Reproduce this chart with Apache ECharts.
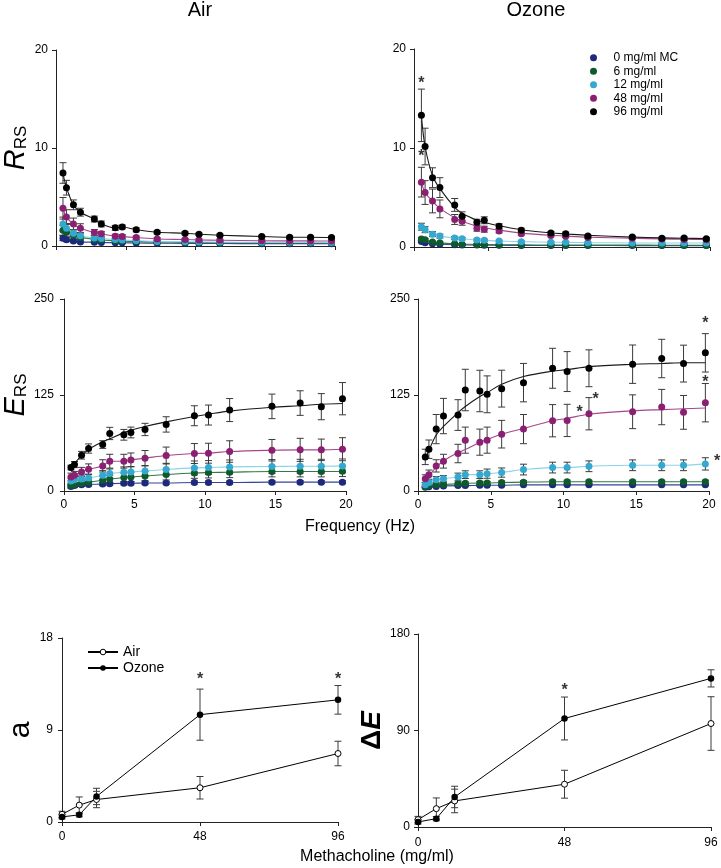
<!DOCTYPE html>
<html>
<head>
<meta charset="utf-8">
<script src="https://cdn.jsdelivr.net/npm/echarts@6/dist/echarts.min.js"></script>
<style>
  html, body { margin: 0; padding: 0; background: #fff; }
  #chart { width: 721px; height: 868px; }
</style>
</head>
<body>
<div id="chart"></div>
<script>
  // frequencies of the forced oscillation (Hz)
  const freq = [0.5, 0.75, 1.25, 1.75, 2.75, 3.25, 4.25, 4.75, 5.75, 7.25, 9.25, 10.25, 11.75, 14.75, 16.75, 18.25, 19.75];
  const doses = ['0 mg/ml MC', '6 mg/ml', '12 mg/ml', '48 mg/ml', '96 mg/ml'];
  const doseColors = ['#1c2a7d', '#0f5a2b', '#35a8cf', '#8b1f72', '#000000'];
  const lineColors = ['#34449a', '#2f7a48', '#8dd3e6', '#a5478a', '#1a1a1a'];

  // R_RS, Air (rows follow doses)
  const airR = [
    [0.8, 0.65, 0.5, 0.42, 0.38, 0.36, 0.34, 0.33, 0.31, 0.28, 0.27, 0.26, 0.25, 0.24, 0.24, 0.24, 0.23],
    [1.6, 1.4, 1.1, 0.88, 0.68, 0.62, 0.53, 0.5, 0.45, 0.4, 0.36, 0.35, 0.34, 0.32, 0.31, 0.31, 0.3],
    [2.25, 1.8, 1.3, 1.05, 0.82, 0.76, 0.66, 0.62, 0.55, 0.47, 0.44, 0.42, 0.4, 0.38, 0.37, 0.37, 0.36],
    [3.85, 2.95, 2.25, 1.82, 1.38, 1.24, 1.0, 0.96, 0.86, 0.72, 0.66, 0.62, 0.59, 0.54, 0.52, 0.52, 0.51],
    [7.45, 5.95, 4.2, 3.45, 2.75, 2.25, 1.85, 1.94, 1.65, 1.4, 1.3, 1.2, 1.1, 0.97, 0.9, 0.9, 0.86]
  ];
  const airRErr = [
    [0.25, 0.2, 0.15, 0.1, 0.08, 0.06, 0.05, 0.05, 0.05, 0.05, 0.05, 0.05, 0.05, 0.05, 0.05, 0.05, 0.05],
    [0.5, 0.4, 0.3, 0.2, 0.15, 0.12, 0.1, 0.1, 0.08, 0.08, 0.07, 0.07, 0.07, 0.06, 0.06, 0.06, 0.06],
    [0.7, 0.5, 0.35, 0.25, 0.2, 0.15, 0.12, 0.12, 0.1, 0.1, 0.08, 0.08, 0.08, 0.08, 0.08, 0.08, 0.08],
    [1.1, 0.75, 0.6, 0.45, 0.3, 0.25, 0.2, 0.2, 0.15, 0.12, 0.1, 0.1, 0.1, 0.1, 0.1, 0.1, 0.1],
    [1.05, 0.75, 0.5, 0.4, 0.3, 0.3, 0.25, 0.2, 0.2, 0.15, 0.15, 0.12, 0.12, 0.12, 0.12, 0.12, 0.12]
  ];

  // R_RS, Ozone
  const ozoneR = [
    [0.55, 0.42, 0.32, 0.28, 0.22, 0.21, 0.19, 0.18, 0.17, 0.16, 0.15, 0.15, 0.15, 0.14, 0.14, 0.14, 0.14],
    [0.82, 0.72, 0.5, 0.42, 0.32, 0.29, 0.26, 0.25, 0.23, 0.21, 0.2, 0.2, 0.19, 0.19, 0.18, 0.18, 0.18],
    [2.05, 1.75, 1.3, 1.1, 0.9, 0.84, 0.71, 0.68, 0.6, 0.54, 0.48, 0.47, 0.44, 0.41, 0.4, 0.4, 0.4],
    [6.55, 5.5, 4.65, 3.85, 2.78, 2.6, 1.9, 1.8, 1.62, 1.35, 1.15, 1.08, 0.95, 0.88, 0.8, 0.76, 0.74],
    [13.3, 10.15, 7.0, 6.0, 4.25, 3.1, 2.5, 2.7, 2.1, 1.7, 1.42, 1.35, 1.1, 1.0, 0.88, 0.9, 0.84]
  ];
  const ozoneRErr = [
    [0.1, 0.08, 0.06, 0.05, 0.04, 0.04, 0.03, 0.03, 0.03, 0.03, 0.03, 0.03, 0.03, 0.03, 0.03, 0.03, 0.03],
    [0.15, 0.12, 0.1, 0.08, 0.06, 0.05, 0.05, 0.05, 0.04, 0.04, 0.04, 0.04, 0.04, 0.04, 0.04, 0.04, 0.04],
    [0.35, 0.3, 0.25, 0.2, 0.15, 0.12, 0.1, 0.1, 0.08, 0.08, 0.07, 0.07, 0.07, 0.06, 0.06, 0.06, 0.06],
    [1.5, 1.2, 1.2, 0.9, 0.5, 0.4, 0.3, 0.3, 0.2, 0.15, 0.12, 0.12, 0.1, 0.1, 0.1, 0.1, 0.1],
    [2.65, 1.85, 1.0, 1.0, 0.65, 0.45, 0.3, 0.35, 0.25, 0.2, 0.15, 0.15, 0.12, 0.12, 0.12, 0.12, 0.12]
  ];
  const ozoneRFit48 = [6.55, 5.5, 4.6, 3.9, 2.95, 2.6, 2.1, 1.95, 1.7, 1.4, 1.18, 1.1, 1.0, 0.88, 0.82, 0.78, 0.76];
  const ozoneRFit96 = [13.3, 10.15, 7.2, 5.9, 4.0, 3.4, 2.7, 2.5, 2.15, 1.75, 1.42, 1.32, 1.18, 1.0, 0.92, 0.88, 0.85];

  // E_RS, Air
  const airE = [
    [6, 7, 8, 8.5, 9, 9.5, 10, 10, 10.5, 10.5, 11, 11, 11, 11.5, 11.5, 11.5, 11.5],
    [7, 8, 10, 11.5, 14, 15.5, 17.5, 18.3, 19.5, 21.4, 23.5, 24, 24.4, 25.4, 25.4, 25.4, 25.8],
    [13, 14.5, 15.7, 17, 20.5, 22.7, 24.4, 24.8, 26.1, 28, 30.1, 30.6, 31.4, 31.9, 32.3, 32.3, 32.7],
    [18.3, 20.5, 24.8, 28.3, 32.7, 38.8, 38.8, 40.5, 42.7, 46.2, 48.8, 49.2, 51.4, 53.1, 53.6, 53.6, 54.4],
    [30.5, 34.4, 46.6, 55.3, 60.5, 74.9, 73.2, 76.2, 80.1, 86.7, 98.0, 98.9, 105.4, 110.2, 114.5, 109.8, 120.2]
  ];
  const airEErr = [
    [2, 2, 2, 2, 2, 2, 2, 2, 2, 2, 2, 2, 2, 2, 2, 2, 2],
    [3, 3, 4, 4, 5, 5, 6, 6, 6, 7, 7, 7, 7, 7, 7, 7, 7],
    [4, 4, 5, 5, 6, 6, 7, 7, 7, 8, 9, 9, 9, 9, 9, 9, 9],
    [5, 5, 6, 7, 8, 9, 9, 9, 10, 11, 13, 13, 14, 14, 15, 14, 15],
    [3, 4, 5, 6, 5, 8, 7, 7, 8, 10, 13, 13, 15, 16, 16, 17, 21]
  ];
  const airEFit96 = [30.5, 36, 46, 54, 64, 68, 76, 79, 84, 90, 97, 100, 104, 109, 111, 113, 114];

  // E_RS, Ozone
  const ozoneE = [
    [5, 5.5, 6, 6.5, 7, 7, 7.5, 7.5, 7.5, 8, 8, 8, 8, 8, 8, 8, 8],
    [6, 7, 8, 8.5, 9.5, 10, 10.5, 10.5, 11, 11.5, 12, 12, 12, 12, 12, 12, 12],
    [8, 11, 14.8, 16.1, 18.3, 21.3, 21.3, 22.6, 24, 27.9, 30.5, 30.5, 32.2, 33.5, 33.5, 33.5, 35.3],
    [16.1, 21.3, 32.7, 38.8, 48.8, 66.2, 63.6, 66.2, 74.0, 80.6, 91.5, 91.9, 100.6, 103.2, 109.3, 102.4, 115],
    [44.4, 54.4, 80.6, 97.6, 98.9, 131.5, 130.2, 125.9, 133.3, 141.1, 159.8, 155.5, 159.8, 165.1, 172.5, 165.9, 179.9]
  ];
  const ozoneEErr = [
    [1, 1, 1, 1, 1, 1, 1, 1, 1, 1, 1, 1, 1, 1, 1, 1, 1],
    [2, 2, 2, 2, 2, 2, 2, 2, 2, 2, 2, 2, 2, 2, 2, 2, 2],
    [3, 3, 4, 4, 5, 5, 5, 6, 6, 7, 7, 7, 7, 7, 7, 7, 8],
    [5, 6, 8, 9, 12, 17, 17, 17, 18, 19, 21, 21, 21, 22, 23, 22, 25],
    [10, 12, 19, 23, 20, 27, 27, 24, 24, 25, 26, 26, 24, 25, 25, 24, 25]
  ];
  const ozoneEFit48 = [16, 19.6, 31, 39, 50, 54, 63.6, 67, 74, 81.4, 91.5, 94.5, 100, 104.5, 106, 107, 108];
  const ozoneEFit96 = [42, 53, 73, 84, 102, 110, 123, 128, 139, 149, 156, 158, 162, 165, 166, 167, 167];

  // bottom panels: a and delta E against methacholine dose
  const mcDose = [0, 6, 12, 48, 96];
  const aAir = [0.75, 1.65, 2.2, 3.35, 6.7];
  const aAirErr = [0.3, 0.8, 0.8, 1.1, 1.2];
  const aOzone = [0.5, 0.7, 2.5, 10.5, 11.95];
  const aOzoneErr = [0.2, 0.2, 0.8, 2.5, 1.4];
  const dEAir = [6.9, 17.1, 24.3, 39.9, 96.5];
  const dEAirErr = [3, 10, 11, 13, 25];
  const dEOzone = [4.7, 7.8, 28, 101.2, 138.6];
  const dEOzoneErr = [2, 2, 10, 20, 8];

  // significance marks [x, y]
  const ozoneRStars = [[0.5, 16.9], [0.5, 9.5]];
  const ozoneEStars = [[19.75, 223], [19.75, 146.8], [12.2, 124.6], [11.1, 106.7], [20.55, 44]];
  const aStars = [[48, 14.3], [96, 14.3]];
  const dEStars = [[48, 131.4]];

  const font = 'Liberation Sans, Arial, sans-serif';
  const axisColor = '#222';
  const barColor = '#3a3a3a';

  function errRender(params, api) {
    const x = api.value(0), y = api.value(1), e = api.value(2);
    const hi = api.coord([x, y + e]);
    const lo = api.coord([x, y - e]);
    const w = 3.5;
    const style = { stroke: barColor, lineWidth: 1 };
    return {
      type: 'group',
      children: [
        { type: 'line', shape: { x1: hi[0], y1: hi[1], x2: lo[0], y2: lo[1] }, style: style },
        { type: 'line', shape: { x1: hi[0] - w, y1: hi[1], x2: hi[0] + w, y2: hi[1] }, style: style },
        { type: 'line', shape: { x1: lo[0] - w, y1: lo[1], x2: lo[0] + w, y2: lo[1] }, style: style }
      ]
    };
  }

  function xAx(i, max, interval, showLabels, margin) {
    return {
      type: 'value', gridIndex: i, min: 0, max: max, interval: interval,
      axisLine: { onZero: false, lineStyle: { color: axisColor, width: 1 } },
      axisTick: { show: true, length: 4, lineStyle: { color: axisColor } },
      axisLabel: { show: showLabels, color: '#000', fontSize: 12, fontFamily: font, margin: margin || 8 },
      splitLine: { show: false }
    };
  }

  function yAx(i, max, interval, name, rich, gap, margin) {
    return {
      type: 'value', gridIndex: i, min: 0, max: max, interval: interval,
      name: name, nameLocation: 'middle', nameRotate: 90, nameGap: gap,
      nameTextStyle: { color: '#000', fontFamily: font, rich: rich },
      axisLine: { show: true, lineStyle: { color: axisColor, width: 1 } },
      axisTick: { show: true, length: 4, lineStyle: { color: axisColor } },
      axisLabel: { color: '#000', fontSize: 12, fontFamily: font, margin: margin || 8 },
      splitLine: { show: false }
    };
  }

  const richR = {
    i: { fontSize: 29, fontStyle: 'italic', fontFamily: font, verticalAlign: 'bottom' },
    s: { fontSize: 17, fontFamily: font, verticalAlign: 'bottom' }
  };
  const richA = { n: { fontSize: 30, fontFamily: font } };
  const richD = {
    d: { fontSize: 28, fontFamily: font, fontWeight: 'bold' },
    i: { fontSize: 28, fontStyle: 'italic', fontFamily: font, fontWeight: 'bold' }
  };

  const series = [];

  function starSeries(i, pts) {
    series.push({
      type: 'scatter', xAxisIndex: i, yAxisIndex: i, data: pts, clip: false,
      symbolSize: 1, itemStyle: { color: 'rgba(0,0,0,0)' }, silent: true, z: 6,
      label: { show: true, formatter: '*', position: 'inside', offset: [0, 4],
        color: '#000', fontSize: 16, fontWeight: 'bold', fontFamily: font }
    });
  }

  function freqPanel(i, means, errs, fits) {
    for (let k = 0; k < doses.length; k++) {
      series.push({
        type: 'custom', xAxisIndex: i, yAxisIndex: i, renderItem: errRender, z: 2, silent: true,
        data: freq.map((f, j) => [f, means[k][j], errs[k][j]])
      });
      const curve = fits[k] || means[k];
      series.push({
        type: 'line', xAxisIndex: i, yAxisIndex: i, smooth: 0.35, showSymbol: false, z: 3, silent: true,
        lineStyle: { color: lineColors[k], width: 1.1 },
        data: freq.map((f, j) => [f, curve[j]])
      });
      series.push({
        name: doses[k], type: 'scatter', xAxisIndex: i, yAxisIndex: i, symbolSize: 7, z: 4,
        itemStyle: { color: doseColors[k], opacity: 1 },
        data: freq.map((f, j) => [f, means[k][j]])
      });
    }
  }

  freqPanel(0, airR, airRErr, {});
  freqPanel(1, ozoneR, ozoneRErr, { 3: ozoneRFit48, 4: ozoneRFit96 });
  freqPanel(2, airE, airEErr, { 4: airEFit96 });
  freqPanel(3, ozoneE, ozoneEErr, { 3: ozoneEFit48, 4: ozoneEFit96 });
  starSeries(1, ozoneRStars);
  starSeries(3, ozoneEStars);

  function dosePanel(i, air, airErr, ozone, ozoneErr) {
    [[air, airErr], [ozone, ozoneErr]].forEach(function (p) {
      series.push({
        type: 'custom', xAxisIndex: i, yAxisIndex: i, renderItem: errRender, z: 2, silent: true, clip: false,
        data: mcDose.map((d, j) => [d, p[0][j], p[1][j]])
      });
    });
    series.push({
      name: 'Air', type: 'line', xAxisIndex: i, yAxisIndex: i, z: 4,
      symbol: 'circle', symbolSize: 6, showAllSymbol: true,
      lineStyle: { color: '#000', width: 1 },
      itemStyle: { color: '#fff', borderColor: '#000', borderWidth: 1 },
      data: mcDose.map((d, j) => [d, air[j]])
    });
    series.push({
      name: 'Ozone', type: 'line', xAxisIndex: i, yAxisIndex: i, z: 4,
      symbol: 'circle', symbolSize: 6.5, showAllSymbol: true,
      lineStyle: { color: '#000', width: 1 }, itemStyle: { color: '#000' },
      data: mcDose.map((d, j) => [d, ozone[j]])
    });
  }

  dosePanel(4, aAir, aAirErr, aOzone, aOzoneErr);
  dosePanel(5, dEAir, dEAirErr, dEOzone, dEOzoneErr);
  starSeries(4, aStars);
  starSeries(5, dEStars);

  const option = {
    animation: false,
    backgroundColor: '#fff',
    textStyle: { fontFamily: font },
    grid: [
      { left: 55, top: 50, width: 280, height: 196 },
      { left: 414, top: 49, width: 296, height: 198 },
      { left: 60, top: 299, width: 286, height: 192 },
      { left: 418, top: 299, width: 291, height: 192 },
      { left: 62, top: 638, width: 276, height: 184 },
      { left: 418, top: 634, width: 293, height: 193 }
    ],
    xAxis: [
      xAx(0, 20, 5, false),
      xAx(1, 20, 5, false),
      xAx(2, 20, 5, true, 8),
      xAx(3, 20, 5, true, 8),
      xAx(4, 96, 48, true, 9),
      xAx(5, 96, 48, true, 10)
    ],
    yAxis: [
      yAx(0, 20, 10, '{i|R}{s|RS}', richR, 26, 8),
      yAx(1, 20, 10, '', {}, 20, 8),
      yAx(2, 250, 125, '{i|E}{s|RS}', richR, 33, 10),
      yAx(3, 250, 125, '', {}, 20, 8),
      yAx(4, 18, 9, '{n|a}', richA, 24, 9),
      yAx(5, 180, 90, '{d|Δ}{i|E}', richD, 29, 8)
    ],
    legend: [
      {
        data: doses, orient: 'vertical', left: 585, top: 46, selectedMode: false,
        icon: 'circle', itemWidth: 30, itemHeight: 7, itemGap: 0,
        textStyle: { color: '#000', fontSize: 12, fontFamily: font, lineHeight: 13.5 }
      },
      {
        data: ['Air', 'Ozone'], orient: 'vertical', left: 82, top: 639, selectedMode: false,
        itemWidth: 30, itemHeight: 7, itemGap: 0,
        itemStyle: { borderWidth: 1 },
        textStyle: { color: '#000', fontSize: 14, fontFamily: font, lineHeight: 16 }
      }
    ],
    graphic: [
      { type: 'text', x: 200, y: 10, style: { text: 'Air', fontSize: 20, fontFamily: font, fill: '#000', align: 'center', verticalAlign: 'middle' } },
      { type: 'text', x: 536, y: 10, style: { text: 'Ozone', fontSize: 20, fontFamily: font, fill: '#000', align: 'center', verticalAlign: 'middle' } },
      { type: 'text', x: 360, y: 527, style: { text: 'Frequency (Hz)', fontSize: 16, fontFamily: font, fill: '#000', align: 'center', verticalAlign: 'middle' } },
      { type: 'text', x: 377, y: 857, style: { text: 'Methacholine (mg/ml)', fontSize: 16, fontFamily: font, fill: '#000', align: 'center', verticalAlign: 'middle' } }
    ],
    series: series
  };

  const chart = echarts.init(document.getElementById('chart'));
  chart.setOption(option);
</script>
</body>
</html>
